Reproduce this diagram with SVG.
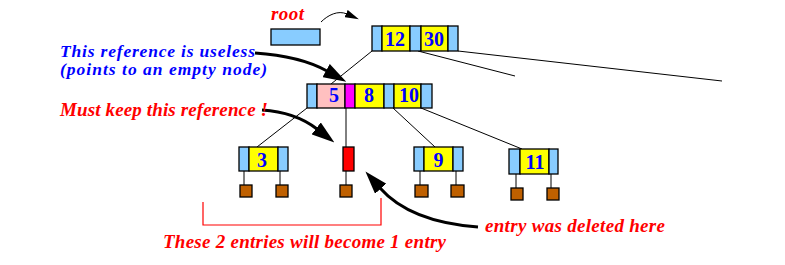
<svg xmlns="http://www.w3.org/2000/svg" width="785" height="265" viewBox="0 0 785 265">
<style>
.b{fill:#88ccff;stroke:#000;stroke-width:1.3}
.y{fill:#ffff00;stroke:#000;stroke-width:1.3}
.pk{fill:#ffc0c0;stroke:#000;stroke-width:1.3}
.mg{fill:#ff00ff;stroke:#000;stroke-width:1.3}
.rd{fill:#ff0000;stroke:#000;stroke-width:1.3}
.br{fill:#bf6000;stroke:#000;stroke-width:1.3}
.k{font-family:"Liberation Serif","Times New Roman",serif;font-weight:bold;font-size:20px;fill:#0000ff;text-anchor:middle}
.lb{font-family:"Liberation Serif","Times New Roman",serif;font-weight:bold;font-style:italic;font-size:19px}
.sm{font-size:17.5px}
.red{fill:#ff0000}
.blue{fill:#0000ff}
.thin{fill:none;stroke:#000;stroke-width:1}
.thick{fill:none;stroke:#000;stroke-width:3}
</style>
<defs>
<marker id="big" markerUnits="userSpaceOnUse" markerWidth="23" markerHeight="15" viewBox="0 0 23 15" refX="1" refY="7.5" orient="auto"><path d="M0,0 L23,7.5 L0,15 z" fill="#000"/></marker>
<marker id="small" markerUnits="userSpaceOnUse" markerWidth="14" markerHeight="8" viewBox="0 0 14 8" refX="1" refY="4" orient="auto"><path d="M0,0 L14,4 L0,8 z" fill="#000"/></marker>
</defs>
<rect width="785" height="265" fill="#fff"/>
<g id="connectors">
<line class="thin" x1="372" y1="51" x2="331" y2="84"/>
<line class="thin" x1="418" y1="51" x2="515" y2="76"/>
<line class="thin" x1="458" y1="51" x2="722" y2="81"/>
<line class="thin" x1="307" y1="108" x2="257" y2="147"/>
<line class="thin" x1="346" y1="108" x2="346" y2="147"/>
<line class="thin" x1="393" y1="108" x2="435" y2="147"/>
<line class="thin" x1="421" y1="108" x2="522" y2="149"/>
<line class="thin" x1="244" y1="171" x2="244" y2="185"/>
<line class="thin" x1="280" y1="171" x2="280" y2="185"/>
<line class="thin" x1="346" y1="171" x2="346" y2="185"/>
<line class="thin" x1="420" y1="171" x2="420" y2="185"/>
<line class="thin" x1="456" y1="171" x2="456" y2="185"/>
<line class="thin" x1="516" y1="174" x2="516" y2="188"/>
<line class="thin" x1="551" y1="174" x2="551" y2="188"/>
<path class="thin" d="M321,22 C328,15 338,10 347,14" marker-end="url(#small)"/>
<path class="thick" d="M255,53 Q300,56 327,71" marker-end="url(#big)"/>
<path class="thick" d="M262,110 Q295,112 317,129" marker-end="url(#big)"/>
<path class="thick" d="M478,227 Q410,222 380,188" marker-end="url(#big)"/>
<polyline fill="none" stroke="#ff0000" stroke-width="1.2" points="203,202 203,225 381,225 381,198"/>
</g>
<g id="rootptr">
<rect class="b" x="271" y="29" width="49" height="16"/>
</g>
<g id="root">
<rect class="b" x="372" y="26" width="10" height="25"/>
<rect class="y" x="382" y="26" width="28" height="25"/>
<rect class="b" x="410" y="26" width="11" height="25"/>
<rect class="y" x="421" y="26" width="27" height="25"/>
<rect class="b" x="448" y="26" width="10" height="25"/>
<text class="k" x="395" y="45.5">12</text>
<text class="k" x="434" y="45.5">30</text>
</g>
<g id="mid">
<rect class="b" x="307" y="84" width="10" height="24"/>
<rect class="pk" x="317" y="84" width="28" height="24"/>
<rect class="mg" x="345" y="84" width="10" height="24"/>
<rect class="y" x="355" y="84" width="29" height="24"/>
<rect class="b" x="384" y="84" width="10" height="24"/>
<rect class="y" x="394" y="84" width="27" height="24"/>
<rect class="b" x="421" y="84" width="11" height="24"/>
<text class="k" x="334" y="102">5</text>
<text class="k" x="369" y="102">8</text>
<text class="k" x="409" y="102">10</text>
</g>
<g id="leaf3">
<rect class="b" x="239" y="147" width="10" height="24"/>
<rect class="y" x="249" y="147" width="29" height="24"/>
<rect class="b" x="278" y="147" width="10" height="24"/>
<text class="k" x="262" y="166.5">3</text>
<rect class="br" x="240" y="185" width="12" height="12"/>
<rect class="br" x="276" y="185" width="12" height="12"/>
</g>
<g id="leafEmpty">
<rect class="rd" x="343" y="147" width="11" height="24"/>
<rect class="br" x="340" y="185" width="12" height="12"/>
</g>
<g id="leaf9">
<rect class="b" x="414" y="147" width="10" height="24"/>
<rect class="y" x="424" y="147" width="29" height="24"/>
<rect class="b" x="453" y="147" width="10" height="24"/>
<text class="k" x="438.5" y="166.5">9</text>
<rect class="br" x="415" y="185" width="13" height="12"/>
<rect class="br" x="451" y="185" width="13" height="12"/>
</g>
<g id="leaf11">
<rect class="b" x="509" y="149" width="11" height="25"/>
<rect class="y" x="520" y="149" width="29" height="25"/>
<rect class="b" x="549" y="149" width="9" height="25"/>
<text class="k" x="535" y="168.5">11</text>
<rect class="br" x="511" y="188" width="12" height="12"/>
<rect class="br" x="547" y="188" width="12" height="12"/>
</g>
<g id="labels">
<text class="lb red" x="271" y="20" textLength="33">root</text>
<text class="lb sm blue" x="60" y="56.5" textLength="195">This reference is useless</text>
<text class="lb sm blue" x="60" y="75" textLength="207">(points to an empty node)</text>
<text class="lb red" x="60" y="116" textLength="208">Must keep this reference !</text>
<text class="lb red" x="485" y="232" textLength="180">entry was deleted here</text>
<text class="lb red" x="163" y="248" textLength="283">These 2 entries will become 1 entry</text>
</g>
</svg>
